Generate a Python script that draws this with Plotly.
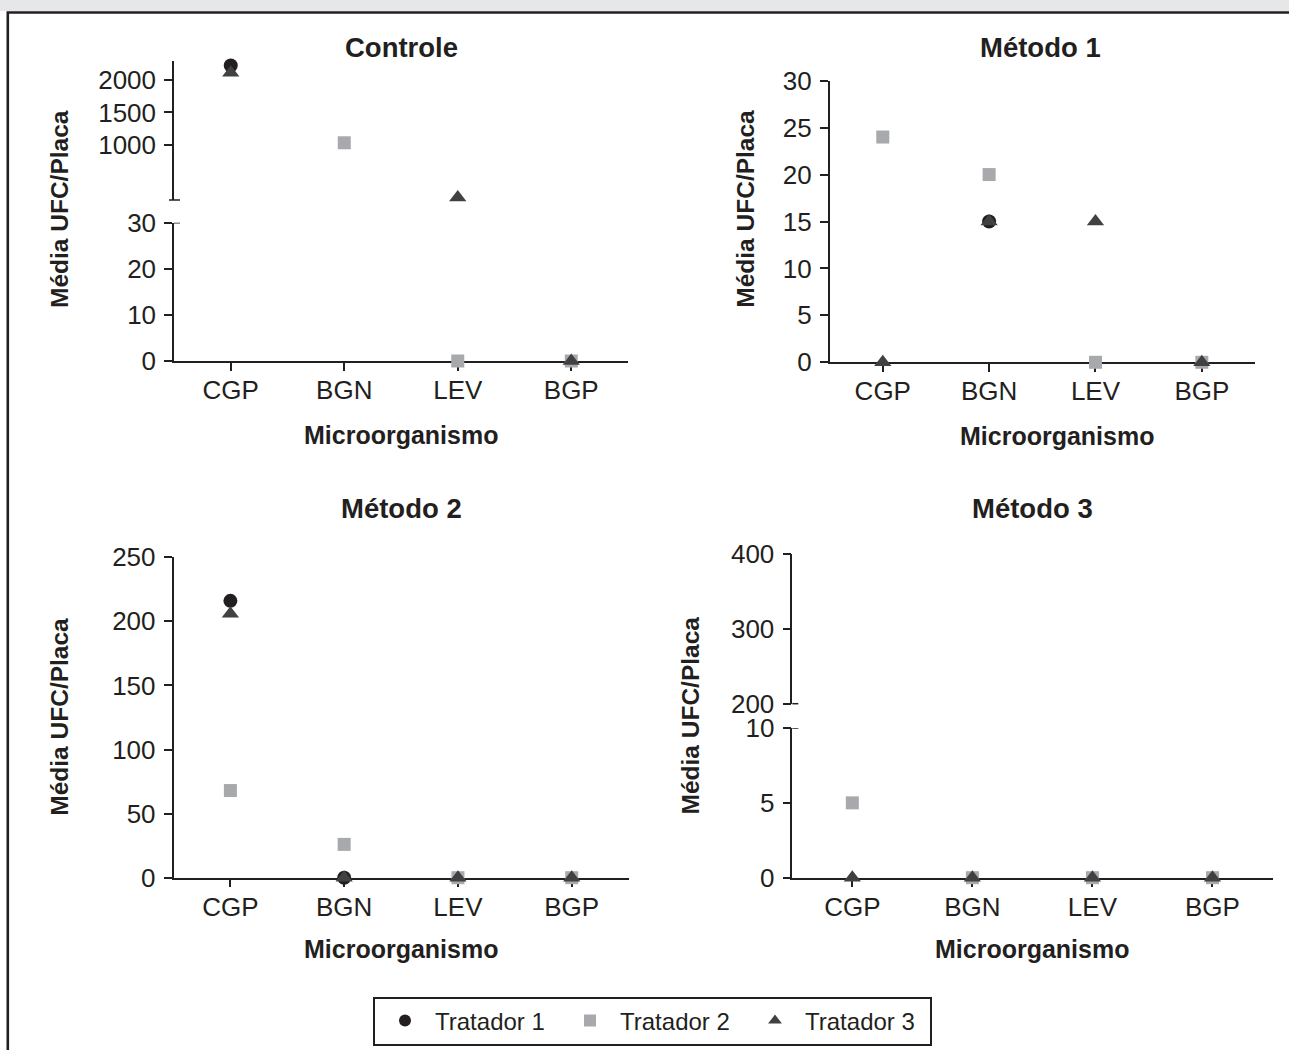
import plotly.graph_objects as go

W, H = 1289, 1050

# ---- data -------------------------------------------------------------
categorias = ["CGP", "BGN", "LEV", "BGP"]
tratadores = ["Tratador 1", "Tratador 2", "Tratador 3"]

controle_t1 = [2225, None, None, None]
controle_t2 = [None, 1030, 0, 0]
controle_t3 = [2115, None, 185, 0]

metodo1_t1 = [None, 15, None, None]
metodo1_t2 = [24, 20, 0, 0]
metodo1_t3 = [0, 15, 15, 0]

metodo2_t1 = [216, 0, None, None]
metodo2_t2 = [68, 26, 0, 0]
metodo2_t3 = [206, 0, 0, 0]

metodo3_t1 = [None, None, None, None]
metodo3_t2 = [5, 0, 0, 0]
metodo3_t3 = [0, 0, 0, 0]

controle_ticks_baixo = [0, 10, 20, 30]
controle_ticks_alto = [1000, 1500, 2000]
metodo1_ticks = [0, 5, 10, 15, 20, 25, 30]
metodo2_ticks = [0, 50, 100, 150, 200, 250]
metodo3_ticks_baixo = [0, 5, 10]
metodo3_ticks_alto = [200, 300, 400]

# ---- styling ----------------------------------------------------------
INK = "#231f20"
FONT = "Liberation Sans, Arial, Helvetica, sans-serif"
estilos = [
    dict(symbol="circle", color="#231f20", size=14),
    dict(symbol="square", color="#a7a9ac", size=13),
    dict(symbol="triangle-up", color="#414042", size=15),
]


def px_x(p):
    return p / W


def px_y(p):
    return 1 - p / H


fig = go.Figure()

# each panel: axes, pixel domains, ranges and ticks of the lower (and, for
# broken axes, the upper) segment, plus the three series
paineis = [
    dict(ax=("x", "y"), ax_up=("x2", "y2"), xd=(174, 628),
         yd=(222.7, 361), rng=[0, 30], ticks=controle_ticks_baixo,
         yd_up=(61, 200), rng_up=[145, 2295], ticks_up=controle_ticks_alto,
         series=[controle_t1, controle_t2, controle_t3]),
    dict(ax=("x3", "y3"), ax_up=None, xd=(829.6, 1255),
         yd=(80.7, 362.3), rng=[0, 30], ticks=metodo1_ticks,
         series=[metodo1_t1, metodo1_t2, metodo1_t3]),
    dict(ax=("x4", "y4"), ax_up=None, xd=(173.5, 628.6),
         yd=(557.3, 877.7), rng=[0, 250], ticks=metodo2_ticks,
         series=[metodo2_t1, metodo2_t2, metodo2_t3]),
    dict(ax=("x5", "y5"), ax_up=("x6", "y6"), xd=(792.3, 1272.5),
         yd=(728, 877.7), rng=[0, 10], ticks=metodo3_ticks_baixo,
         yd_up=(554, 703.7), rng_up=[200, 400], ticks_up=metodo3_ticks_alto,
         series=[metodo3_t1, metodo3_t2, metodo3_t3]),
]


def axis_name(ref):
    return ref[0] + "axis" + ref[1:]


tick_font = dict(family=FONT, size=26, color=INK)
common_y = dict(showline=True, linecolor=INK, linewidth=1.5, ticks="outside",
                ticklen=8, tickwidth=1.5, tickcolor=INK, showgrid=False,
                zeroline=False, tickfont=tick_font, layer="below traces",
                ticklabelstandoff=3, fixedrange=True, automargin=False)
shapes = []
legend_done = set()

for p in paineis:
    xr, yr = p["ax"]
    xdom = [px_x(p["xd"][0]), px_x(p["xd"][1])]
    ydom = [px_y(p["yd"][1]), px_y(p["yd"][0])]
    fig.layout[axis_name(xr)] = dict(
        domain=xdom, anchor=yr, type="category", categoryorder="array",
        categoryarray=categorias, range=[-0.5, 3.5], showline=True,
        linecolor=INK, linewidth=1.5, ticks="outside", ticklen=8,
        tickwidth=1.5, tickcolor=INK, showgrid=False, zeroline=False,
        tickfont=tick_font, layer="below traces", fixedrange=True,
        ticklabelstandoff=-3, automargin=False,
    )
    fig.layout[axis_name(yr)] = dict(domain=ydom, anchor=xr, range=p["rng"],
                                     tickvals=p["ticks"], **common_y)
    limite = p["rng"][1]
    up = p["ax_up"]
    if up:
        xu, yu = up
        fig.layout[axis_name(xu)] = dict(
            domain=xdom, anchor=yu, type="category", categoryorder="array",
            categoryarray=categorias, range=[-0.5, 3.5], visible=False,
            fixedrange=True, automargin=False,
        )
        fig.layout[axis_name(yu)] = dict(
            domain=[px_y(p["yd_up"][1]), px_y(p["yd_up"][0])], anchor=xu,
            range=p["rng_up"], tickvals=p["ticks_up"], **common_y)
        # break marks: inner half of the top tick of the lower segment
        shapes.append(dict(type="line", xref=xr + " domain", xsizemode="pixel",
                           xanchor=0, x0=0, x1=6, yref=yr, y0=limite, y1=limite,
                           line=dict(color=INK, width=1.5)))
        # cap at the foot of the upper segment
        cap_left = -5 if p["rng_up"][0] not in p["ticks_up"] else 0
        shapes.append(dict(type="line", xref=xu + " domain", xsizemode="pixel",
                           xanchor=0, x0=cap_left, x1=6, yref=yu + " domain",
                           y0=0, y1=0, line=dict(color=INK, width=1.5)))

    for i, (nome, valores) in enumerate(zip(tratadores, p["series"])):
        baixo = [v if (v is not None and v <= limite) else None for v in valores]
        alto = [v if (v is not None and v > limite) else None for v in valores]
        grupos = [(baixo, xr, yr)]
        if up:
            grupos.append((alto, up[0], up[1]))
        for vals, xa, ya in grupos:
            show = nome not in legend_done
            legend_done.add(nome)
            fig.add_trace(go.Scatter(
                x=categorias, y=vals, mode="markers", name=nome,
                legendgroup=nome, showlegend=show, xaxis=xa, yaxis=ya,
                cliponaxis=False, legendrank=i,
                marker=dict(symbol=estilos[i]["symbol"],
                            color=estilos[i]["color"], size=estilos[i]["size"],
                            line=dict(width=0)),
                hoverinfo="x+y+name",
            ))

# page frame: grey band on top and black border
shapes.append(dict(type="rect", xref="paper", yref="paper", x0=-0.01, x1=1.01,
                   y0=px_y(11), y1=1.01, fillcolor="#e6e7e8", line=dict(width=0),
                   layer="below"))
shapes.append(dict(type="path", xref="paper", yref="paper",
                   path=f"M {px_x(7.8)} -0.05 L {px_x(7.8)} {px_y(12.5)} L 1.05 {px_y(12.5)}",
                   line=dict(color=INK, width=2.6), layer="above"))

# titles and axis labels
annotations = []
titulos = [("Controle", 401, 48), ("Método 1", 1040, 48),
           ("Método 2", 401, 509), ("Método 3", 1032, 509)]
for txt, x, y in titulos:
    annotations.append(dict(text=f"<b>{txt}</b>", x=px_x(x), y=px_y(y),
                            xref="paper", yref="paper", xanchor="center",
                            yanchor="middle", showarrow=False,
                            font=dict(family=FONT, size=27.5, color=INK)))
for x, y in [(401, 435), (1057, 436), (401, 949), (1031.5, 949)]:
    annotations.append(dict(text="<b>Microorganismo</b>", x=px_x(x), y=px_y(y),
                            xref="paper", yref="paper", xanchor="center",
                            yanchor="middle", showarrow=False,
                            font=dict(family=FONT, size=25, color=INK)))
for x, y in [(60, 209), (745.7, 209), (60, 716.7), (690.7, 715.8)]:
    annotations.append(dict(text="<b>Média UFC/Placa</b>", x=px_x(x), y=px_y(y),
                            xref="paper", yref="paper", xanchor="center",
                            yanchor="middle", textangle=-90, showarrow=False,
                            font=dict(family=FONT, size=24.5, color=INK)))

fig.update_layout(
    width=W, height=H,
    margin=dict(l=0, r=0, t=0, b=0, autoexpand=False),
    paper_bgcolor="white", plot_bgcolor="white",
    font=dict(family=FONT, color=INK),
    shapes=shapes, annotations=annotations,
    legend=dict(orientation="h", x=px_x(373), xanchor="left",
                y=px_y(1021), yanchor="middle", bgcolor="white",
                bordercolor=INK, borderwidth=2, itemsizing="constant",
                itemwidth=50, entrywidth=120, traceorder="normal",
                font=dict(family=FONT, size=24, color=INK)),
)

fig.write_html("out.html")
